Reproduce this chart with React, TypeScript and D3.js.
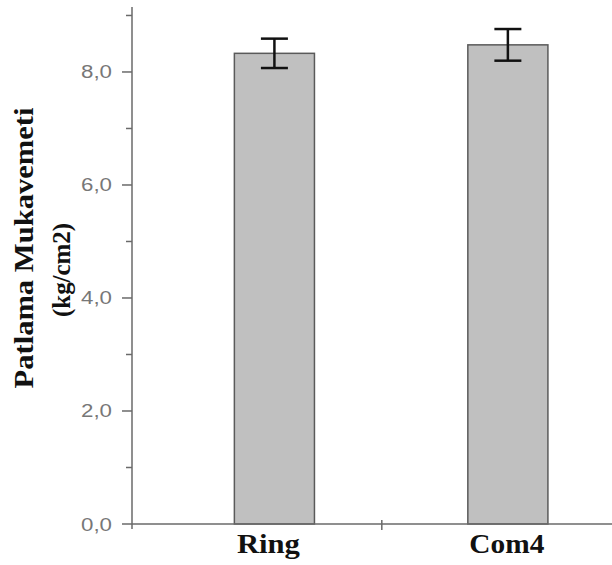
import React from 'react';
import * as d3 from 'd3';

const categories = ['Ring', 'Com4'];
const values = [8.33, 8.48];
const errors = [0.26, 0.28];
const yTicks = [0, 2, 4, 6, 8];
const yMinorTicks = [1, 3, 5, 7, 9];
const yTickLabels = ['0,0', '2,0', '4,0', '6,0', '8,0'];
const xSeparatorTicks = [1.46];

const W = 612;
const H = 565;

// label nudges / widths (the source image is slightly stretched horizontally)
const catLabelShift = [-6, -1];
const catLabelWidth = [63, 75];

export default function App() {
  // layout
  const margin = { top: 7, right: 0, bottom: 41, left: 132 };
  const y = d3.scaleLinear().domain([0, 9.15]).range([H - margin.bottom, margin.top]);
  // categories sit at positions 1, 2
  const x = d3.scaleLinear().domain([0.39, 2.446]).range([margin.left, W]);
  const barW = x(1.343) - x(1);
  const capW = 27;
  const y0 = y(0);
  const axisColor = '#6a6a6a';
  const serif = "'Liberation Serif', 'Times New Roman', serif";

  return (
    <svg
      width={W}
      height={H}
      style={{ position: 'absolute', left: 0, top: 0, background: '#fff' }}
    >
      {/* bars */}
      {categories.map((c, i) => (
        <rect
          key={c}
          x={x(i + 1) - barW / 2}
          y={y(values[i])}
          width={barW}
          height={y0 - y(values[i])}
          fill="#c0c0c0"
          stroke="#5a5a5a"
          strokeWidth={1.5}
        />
      ))}

      {/* error bars */}
      {categories.map((c, i) => {
        const cx = x(i + 1);
        const hi = y(values[i] + errors[i]);
        const lo = y(values[i] - errors[i]);
        return (
          <g key={'err' + c} stroke="#111" strokeWidth={2.5}>
            <line x1={cx} x2={cx} y1={hi} y2={lo} />
            <line x1={cx - capW / 2} x2={cx + capW / 2} y1={hi} y2={hi} />
            <line x1={cx - capW / 2} x2={cx + capW / 2} y1={lo} y2={lo} />
          </g>
        );
      })}

      {/* x axis */}
      <line x1={margin.left} x2={W} y1={y0} y2={y0} stroke={axisColor} strokeWidth={1.5} />
      {xSeparatorTicks.map((t) => (
        <line key={t} x1={x(t)} x2={x(t)} y1={y0 - 4} y2={y0 + 6} stroke={axisColor} strokeWidth={1.5} />
      ))}
      {categories.map((c, i) => (
        <text
          key={'lab' + c}
          x={x(i + 1) + catLabelShift[i]}
          y={553}
          textAnchor="middle"
          fontFamily={serif}
          fontWeight="bold"
          fontSize={27}
          textLength={catLabelWidth[i]}
          lengthAdjust="spacingAndGlyphs"
          fill="#111"
        >
          {c}
        </text>
      ))}

      {/* y axis */}
      <line x1={margin.left} x2={margin.left} y1={margin.top} y2={y0 + 5} stroke={axisColor} strokeWidth={1.5} />
      {yTicks.map((t, i) => (
        <g key={'yt' + t}>
          <line x1={margin.left - 10} x2={margin.left} y1={y(t)} y2={y(t)} stroke={axisColor} strokeWidth={1.5} />
          <text
            x={112}
            y={y(t) + 6.5}
            textAnchor="end"
            fontFamily="'Liberation Sans', Arial, sans-serif"
            fontSize={18}
            textLength={31}
            lengthAdjust="spacingAndGlyphs"
            fill="#777"
          >
            {yTickLabels[i]}
          </text>
        </g>
      ))}
      {yMinorTicks.map((t) => (
        <line key={'ym' + t} x1={margin.left - 6} x2={margin.left} y1={y(t)} y2={y(t)} stroke={axisColor} strokeWidth={1.5} />
      ))}

      {/* y axis title */}
      <text
        transform="translate(33,248) rotate(-90)"
        textAnchor="middle"
        fontFamily={serif}
        fontWeight="bold"
        fontSize={27}
        textLength={281}
        lengthAdjust="spacingAndGlyphs"
        fill="#111"
      >
        Patlama Mukavemeti
      </text>
      <text
        transform="translate(70,270) rotate(-90)"
        textAnchor="middle"
        fontFamily={serif}
        fontWeight="bold"
        fontSize={26}
        textLength={94}
        lengthAdjust="spacingAndGlyphs"
        fill="#111"
      >
        (kg/cm2)
      </text>
    </svg>
  );
}
